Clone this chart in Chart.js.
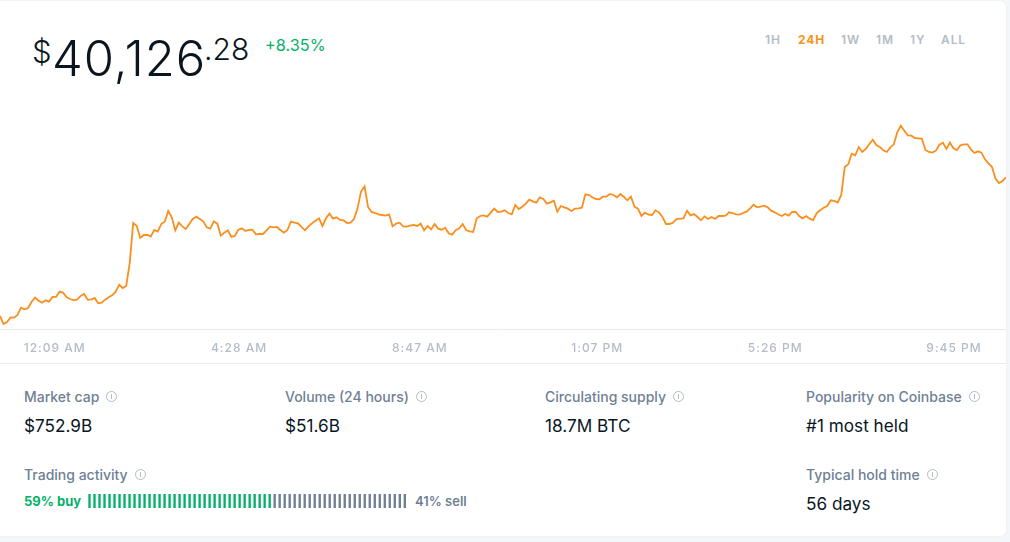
<!DOCTYPE html>
<html><head><meta charset="utf-8">
<script src="https://cdn.jsdelivr.net/npm/chart.js@4"></script>
<style>
html,body{margin:0;padding:0;width:1010px;height:542px;overflow:hidden;background:#f4f7fa;font-family:Inter,sans-serif;}
#card{position:absolute;left:-6px;top:1px;width:1012px;height:535px;background:#fff;border-radius:6px;box-shadow:0 0 2px #dfe5ec;}
.a{position:absolute;white-space:nowrap;}
.lbl{font-size:14px;font-weight:500;color:#6f7f95;line-height:16px;}
.val{font-size:17.2px;font-weight:400;color:#0a161f;line-height:20px;}
.i{display:inline-block;width:9px;height:9px;border:1px solid #b4bcc8;border-radius:50%;margin-left:7px;position:relative;top:0px;vertical-align:0px;}
.i:after{content:"";position:absolute;left:4px;top:2px;width:1px;height:5px;background:#b4bcc8;}
.rng{font-size:12px;font-weight:600;letter-spacing:.9px;color:#b4bcc8;line-height:14px;}
#hr{position:absolute;left:0;top:363px;width:1006px;height:1px;background:#e9edf1;}
</style></head><body>
<div id="card"></div>
<div class="a" style="left:32px;top:34px;font-size:31px;line-height:36px;color:#0a161f;font-weight:300;">$</div>
<div class="a" style="left:52px;top:28px;font-size:49px;line-height:62px;color:#0a161f;font-weight:300;letter-spacing:1px;">40,126</div>
<div class="a" style="left:204px;top:31px;font-size:30px;line-height:36px;color:#0a161f;font-weight:300;">.28</div>
<div class="a" style="left:265px;top:36px;font-size:16.3px;line-height:18px;color:#05b169;font-weight:400;">+8.35%</div>
<div class="a rng" style="left:765px;top:33px;">1H</div>
<div class="a rng" style="left:798px;top:33px;color:#f7931a;font-weight:700;">24H</div>
<div class="a rng" style="left:841px;top:33px;">1W</div>
<div class="a rng" style="left:876px;top:33px;">1M</div>
<div class="a rng" style="left:910px;top:33px;">1Y</div>
<div class="a rng" style="left:941px;top:33px;">ALL</div>
<div class="a" style="left:0;top:90px;width:1006px;height:270px;"><canvas id="price"></canvas></div>
<div id="hr"></div>
<div class="a lbl" style="left:24px;top:389px;">Market cap<span class="i"></span></div>
<div class="a val" style="left:24px;top:416px;">$752.9B</div>
<div class="a lbl" style="left:285px;top:389px;">Volume (24 hours)<span class="i"></span></div>
<div class="a val" style="left:285px;top:416px;">$51.6B</div>
<div class="a lbl" style="left:545px;top:389px;">Circulating supply<span class="i"></span></div>
<div class="a val" style="left:545px;top:416px;">18.7M BTC</div>
<div class="a lbl" style="left:806px;top:389px;">Popularity on Coinbase<span class="i"></span></div>
<div class="a val" style="left:806px;top:416px;">#1 most held</div>
<div class="a lbl" style="left:24px;top:467px;">Trading activity<span class="i"></span></div>
<div class="a" style="left:24px;top:493px;font-size:13px;line-height:16px;font-weight:700;color:#05b169;">59% buy</div>
<div class="a" style="left:87.2px;top:494px;width:320.3px;height:14px;"><canvas id="activity"></canvas></div>
<div class="a" style="left:415px;top:493px;font-size:13px;line-height:16px;font-weight:600;color:#6f7f95;">41% sell</div>
<div class="a lbl" style="left:806px;top:467px;">Typical hold time<span class="i"></span></div>
<div class="a val" style="left:806px;top:494px;">56 days</div>
<script>
const prices = [
37040,36862,36907,37010,37003,37062,37225,37188,37217,37351,37447,37380,37336,37388,37358,37462,37462,37580,37558,37454,
37417,37395,37402,37484,37528,37402,37402,37439,37321,37336,37402,37454,37499,37580,37735,37661,37706,38209,39104,39045,
38771,38838,38838,38801,38949,38912,39082,39134,39371,39230,38942,39112,39030,38971,39082,39193,39245,39193,39141,39008,
38979,39141,39090,38823,38890,38942,38794,38816,38956,38986,38927,38949,38956,38853,38860,38860,38934,39023,39008,39016,
38949,38890,38949,39134,39112,39097,39016,38942,39030,39097,39156,39208,39038,39208,39312,39201,39230,39171,
39164,39104,39112,39193,39430,39800,39918,39460,39349,39326,39297,39282,39267,39297,39030,39090,39112,39030,39023,39045,
39060,39038,39090,38942,39038,38964,39082,38979,38956,39001,38875,38845,38942,38986,39082,38942,38919,38905,39208,39260,
39275,39245,39334,39423,39349,39356,39386,39326,39297,39504,39415,39467,39534,39622,39585,39556,39674,39637,39534,39563,
39600,39356,39482,39452,39423,39371,39423,39430,39445,39741,39726,39674,39637,39630,39689,39689,39748,39726,39674,39748,
39682,39608,39689,39467,39423,39260,39334,39289,39282,39386,39341,39238,39082,39082,39112,
39193,39201,39208,39378,39275,39304,39238,39164,39252,39193,39238,39193,39260,39260,39267,39341,39326,39297,39289,39326,
39356,39430,39511,39452,39467,39489,39452,39378,39341,39297,39260,39304,39267,39349,39349,39260,39208,39260,39201,39171,
39326,39386,39445,39482,39608,39593,39556,39726,40348,40407,40644,40607,40792,40681,40747,40858,40954,40836,40792,40718,
40681,40784,40851,41125,41265,41154,41051,41043,40991,40984,40977,40725,40681,40666,40710,40843,40888,40747,40888,40762,
40725,40829,40851,40851,40740,40658,40695,40666,40518,40429,40348,40089,39992,40037,40118
];
const tickMinutes = [9,275,536,792,1049,1307];
const tickLabels = ['12:09 AM','4:28 AM','8:47 AM','1:07 PM','5:26 PM','9:45 PM'];
const axisStartMinute = -70, axisEndMinute = 1382;
const lastPointMinute = 1382;
const buyBars = 37, totalBars = 64;

const lineColor = '#f98f1e';
const minutes = prices.map((_,i)=>axisStartMinute + i*(lastPointMinute-axisStartMinute)/(prices.length-1));
new Chart(document.getElementById('price'),{
  type:'line',
  data:{datasets:[{data:prices.map((p,i)=>({x:minutes[i],y:p})),borderColor:lineColor,borderWidth:1.8,pointRadius:0,tension:0,fill:false}]},
  plugins:[{id:'spacing',beforeDraw(c){c.ctx.letterSpacing='1px';}}],
  options:{
    responsive:true,maintainAspectRatio:false,animation:false,
    layout:{padding:0},
    plugins:{legend:{display:false},tooltip:{enabled:false}},
    scales:{
      y:{display:false,min:36751,max:42057},
      x:{type:'linear',min:axisStartMinute,max:axisEndMinute,
        afterBuildTicks(s){s.ticks=tickMinutes.map(v=>({value:v}));},
        afterFit(s){s.height=31;},
        grid:{display:false,drawTicks:false},
        border:{display:true,color:'#e6eaee',width:1},
        ticks:{autoSkip:false,maxRotation:0,padding:12,color:'#b4bcc8',font:{family:'Inter',size:12,weight:'500'},
          callback(v){const k=tickMinutes.indexOf(v);return k<0?'':tickLabels[k];}}
      }
    }
  }
});
const barLabels = Array.from({length:totalBars},(_,i)=>i+1);
new Chart(document.getElementById('activity'),{
  type:'bar',
  data:{labels:barLabels,datasets:[{data:barLabels.map(()=>1),barThickness:1.7,
    backgroundColor:barLabels.map((_,i)=>i<buyBars?'#05b169':'#6f7f95')}]},
  options:{responsive:true,maintainAspectRatio:false,animation:false,layout:{padding:0},
    plugins:{legend:{display:false},tooltip:{enabled:false}},
    scales:{x:{display:false},y:{display:false,min:0,max:1}}}
});
</script>
</body></html>
